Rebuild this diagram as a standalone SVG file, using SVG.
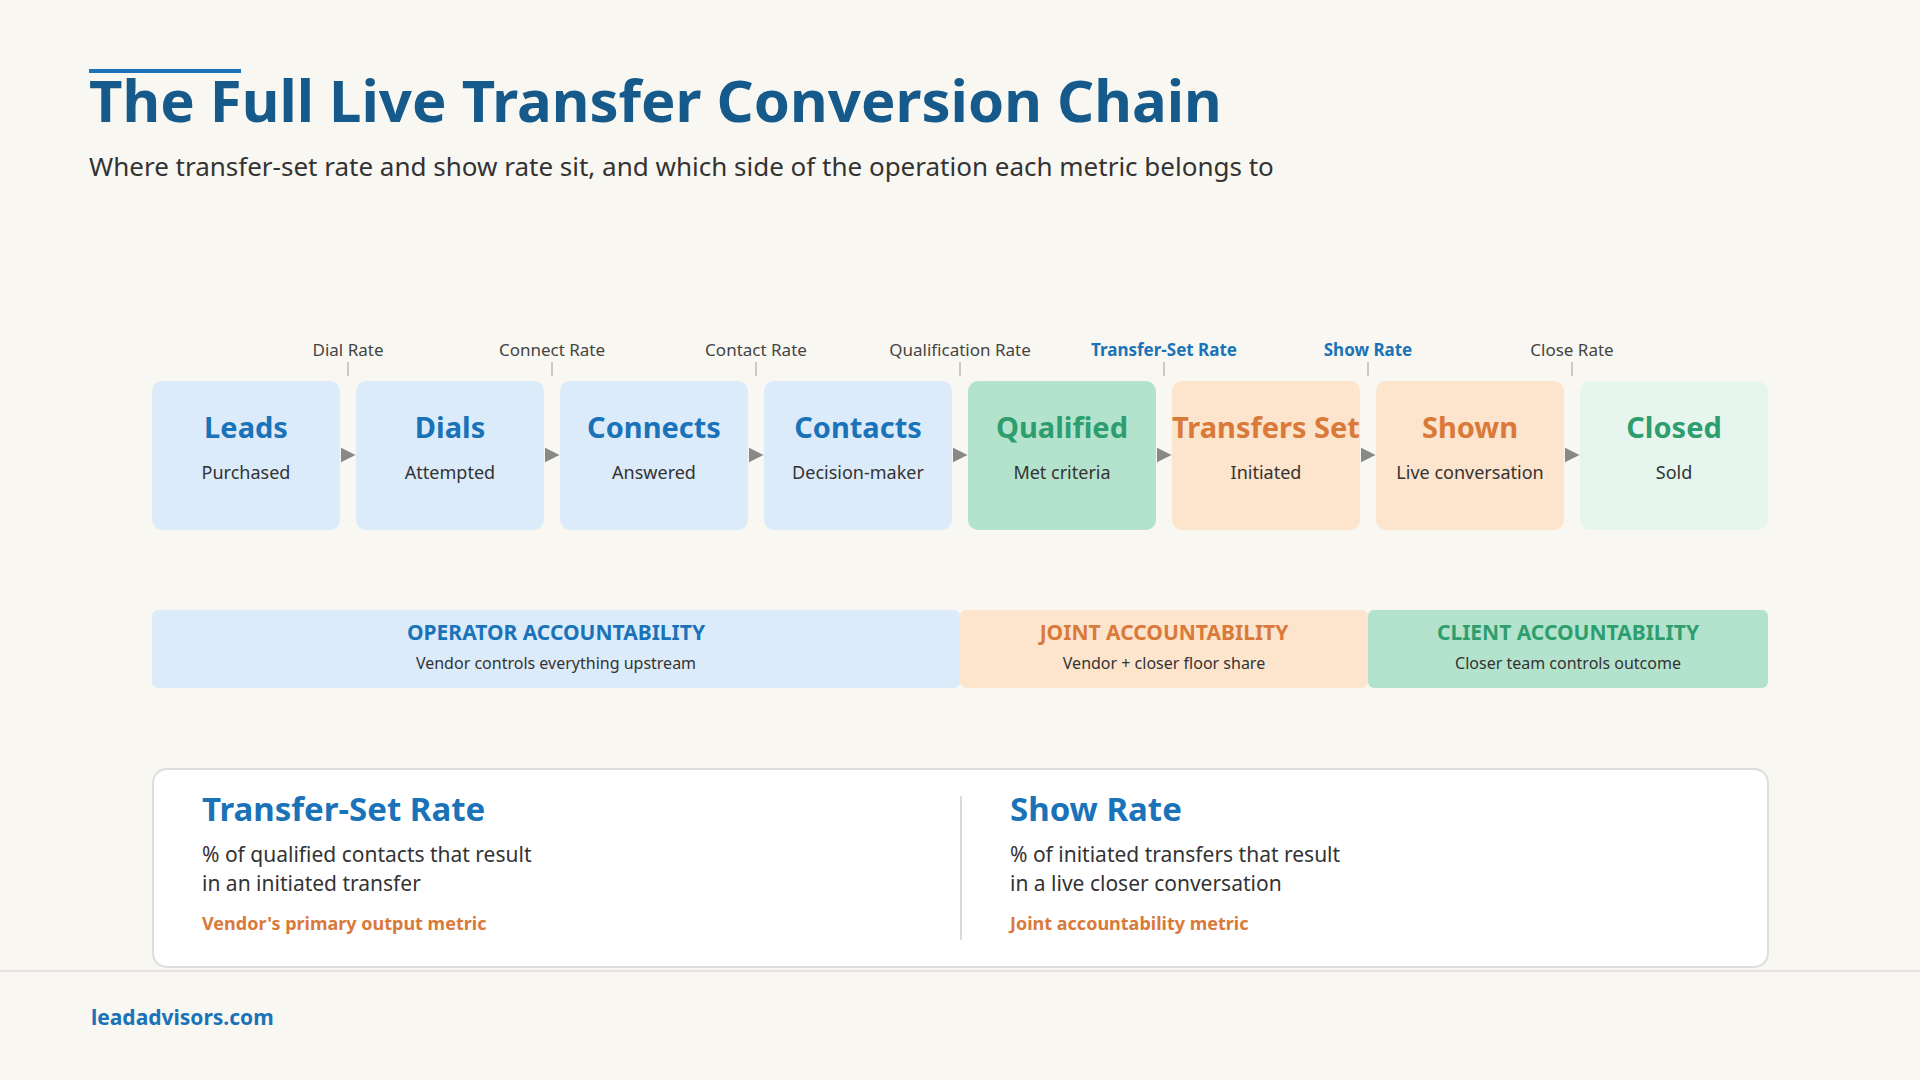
<svg xmlns="http://www.w3.org/2000/svg" width="1920" height="1080" viewBox="0 0 1920 1080">
<style>
text{font-family:"Noto Sans","Liberation Sans",sans-serif}
.nt{font-size:29px;font-weight:700;text-anchor:middle}
.ns{font-size:18px;fill:#333;text-anchor:middle}
.rl{font-size:17px;fill:#444;text-anchor:middle}
.rb{font-size:17px;fill:#1a73b8;font-weight:700;text-anchor:middle}
.tick{stroke:#aaa;stroke-width:1.2}
.blue{fill:#dcebfa}.bt{fill:#1a73b8}
.green{fill:#b3e3cc}.gt{fill:#2e9e6e}
.orange{fill:#fde4cc}.ot{fill:#d9793a}
.at{font-size:21px;font-weight:700;text-anchor:middle}
.as{font-size:16px;fill:#333;text-anchor:middle}
.ch{font-size:33px;font-weight:700;fill:#1a73b8}
.cb{font-size:21px;fill:#333}
.co{font-size:18px;font-weight:700;fill:#d9793a}
</style>
<defs><marker id="ar" viewBox="0 0 10 10" refX="5" refY="5" markerWidth="10" markerHeight="10" orient="auto"><path d="M0,0 L10,5 L0,10 Z" fill="#888"/></marker></defs>
<rect width="1920" height="1080" fill="#f9f7f1"/>
<rect x="89" y="69" width="152" height="4" fill="#1a73b8"/>
<text x="89" y="122" font-size="58" font-weight="700" fill="#155a8a">The Full Live Transfer Conversion Chain</text>
<text x="89" y="176" font-size="26" fill="#333">Where transfer-set rate and show rate sit, and which side of the operation each metric belongs to</text>
<g id="rates">
<line class="tick" x1="348" y1="362" x2="348" y2="376"/><text class="rl" x="348" y="356">Dial Rate</text>
<line class="tick" x1="552" y1="362" x2="552" y2="376"/><text class="rl" x="552" y="356">Connect Rate</text>
<line class="tick" x1="756" y1="362" x2="756" y2="376"/><text class="rl" x="756" y="356">Contact Rate</text>
<line class="tick" x1="960" y1="362" x2="960" y2="376"/><text class="rl" x="960" y="356">Qualification Rate</text>
<line class="tick" x1="1164" y1="362" x2="1164" y2="376"/><text class="rb" x="1164" y="356">Transfer-Set Rate</text>
<line class="tick" x1="1368" y1="362" x2="1368" y2="376"/><text class="rb" x="1368" y="356">Show Rate</text>
<line class="tick" x1="1572" y1="362" x2="1572" y2="376"/><text class="rl" x="1572" y="356">Close Rate</text>
</g>
<g id="n1"><rect class="blue" x="152" y="381" width="188" height="149" rx="10"/><text class="nt bt" x="246" y="438">Leads</text><text class="ns" x="246" y="479">Purchased</text></g>
<g id="n2"><rect class="blue" x="356" y="381" width="188" height="149" rx="10"/><text class="nt bt" x="450" y="438">Dials</text><text class="ns" x="450" y="479">Attempted</text></g>
<g id="n3"><rect class="blue" x="560" y="381" width="188" height="149" rx="10"/><text class="nt bt" x="654" y="438">Connects</text><text class="ns" x="654" y="479">Answered</text></g>
<g id="n4"><rect class="blue" x="764" y="381" width="188" height="149" rx="10"/><text class="nt bt" x="858" y="438">Contacts</text><text class="ns" x="858" y="479">Decision-maker</text></g>
<g id="n5"><rect class="green" x="968" y="381" width="188" height="149" rx="10"/><text class="nt gt" x="1062" y="438">Qualified</text><text class="ns" x="1062" y="479">Met criteria</text></g>
<g id="n6"><rect class="orange" x="1172" y="381" width="188" height="149" rx="10"/><text class="nt ot" x="1266" y="438">Transfers Set</text><text class="ns" x="1266" y="479">Initiated</text></g>
<g id="n7"><rect class="orange" x="1376" y="381" width="188" height="149" rx="10"/><text class="nt ot" x="1470" y="438">Shown</text><text class="ns" x="1470" y="479">Live conversation</text></g>
<g id="n8"><rect fill="#e6f6ee" x="1580" y="381" width="188" height="149" rx="10"/><text class="nt gt" x="1674" y="438">Closed</text><text class="ns" x="1674" y="479">Sold</text></g>
<g id="connectors" stroke="#888" stroke-width="1.5" marker-end="url(#ar)">
<line x1="341" y1="455" x2="348" y2="455"/><line x1="545" y1="455" x2="552" y2="455"/><line x1="749" y1="455" x2="756" y2="455"/><line x1="953" y1="455" x2="960" y2="455"/><line x1="1157" y1="455" x2="1164" y2="455"/><line x1="1361" y1="455" x2="1368" y2="455"/><line x1="1565" y1="455" x2="1572" y2="455"/>
</g>
<g id="operator"><rect class="blue" x="152" y="610" width="808" height="78" rx="6"/><text class="at bt" x="556" y="640">OPERATOR ACCOUNTABILITY</text><text class="as" x="556" y="669">Vendor controls everything upstream</text></g>
<g id="joint"><rect class="orange" x="960" y="610" width="408" height="78" rx="6"/><text class="at ot" x="1164" y="640">JOINT ACCOUNTABILITY</text><text class="as" x="1164" y="669">Vendor + closer floor share</text></g>
<g id="client"><rect class="green" x="1368" y="610" width="400" height="78" rx="6"/><text class="at gt" x="1568" y="640">CLIENT ACCOUNTABILITY</text><text class="as" x="1568" y="669">Closer team controls outcome</text></g>
<g id="card"><rect x="153" y="769" width="1615" height="198" rx="14" fill="#fff" stroke="#ddd" stroke-width="2"/>
<line x1="961" y1="796" x2="961" y2="940" stroke="#ccc" stroke-width="1.5"/>
<text class="ch" x="202" y="821">Transfer-Set Rate</text>
<text class="cb" x="202" y="862">% of qualified contacts that result</text><text class="cb" x="202" y="891">in an initiated transfer</text>
<text class="co" x="202" y="930">Vendor's primary output metric</text>
<text class="ch" x="1010" y="821">Show Rate</text>
<text class="cb" x="1010" y="862">% of initiated transfers that result</text><text class="cb" x="1010" y="891">in a live closer conversation</text>
<text class="co" x="1010" y="930">Joint accountability metric</text>
</g>
<line x1="0" y1="971" x2="1920" y2="971" stroke="#ddd" stroke-width="1.5"/>
<text x="91" y="1025" font-size="21" font-weight="700" fill="#1a73b8">leadadvisors.com</text>
</svg>
